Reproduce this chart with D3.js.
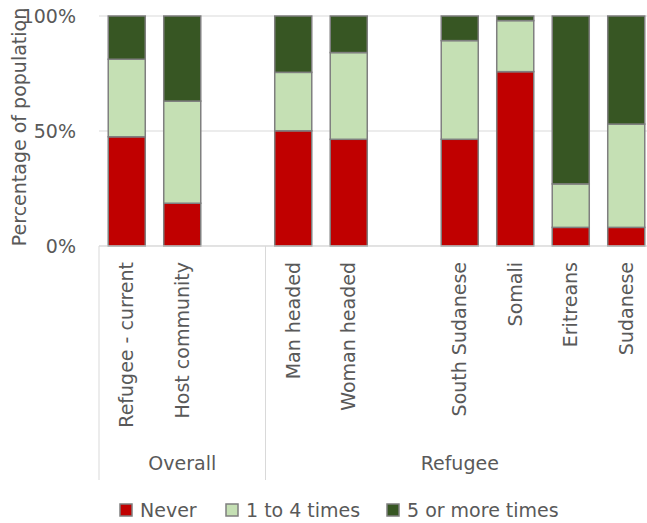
<!DOCTYPE html>
<html><head><meta charset="utf-8">
<script src="https://cdn.jsdelivr.net/npm/d3@7"></script>
<style>body{margin:0;background:#fff}svg{display:block;font-family:"DejaVu Sans",sans-serif}</style>
</head><body><svg id="c" width="647" height="523"></svg>
<script>
const categories = ["Refugee - current","Host community","","Man headed","Woman headed","","South Sudanese","Somali","Eritreans","Sudanese"];
const never = [47.5,18.6,null,50.1,46.4,null,46.4,75.8,8.1,8.1];
const oneToFour = [33.7,44.4,null,25.4,37.7,null,42.9,22.2,18.9,44.9];
const fivePlus = [18.8,37.0,null,24.5,15.9,null,10.7,2.0,73.0,47.0];
const seriesNames = ["Never","1 to 4 times","5 or more times"];
const seriesColors = ["#C00000","#C5E0B4","#375623"];
const groups = [{name:"Overall",from:0,to:2},{name:"Refugee",from:3,to:9}];
const yTicks = [0,50,100];

const svg = d3.select("#c");
const m = {l:99, t:16, r:654, b:246};
const fs = 19;
const slots = categories.map((d,i)=>"s"+i);
const x = d3.scaleBand().domain(slots).range([m.l,m.r]).paddingInner(0.333).paddingOuter(0.1665);
const y = d3.scaleLinear().domain([0,100]).range([m.b,m.t]);
const textCol = "#595959", gridCol = "#D9D9D9";

// gridlines
svg.append("g").selectAll("line").data(yTicks).join("line")
  .attr("x1",m.l).attr("x2",m.r).attr("y1",d=>y(d)).attr("y2",d=>y(d))
  .attr("stroke",gridCol).attr("stroke-width",1);
// y tick labels
svg.append("g").selectAll("text").data(yTicks).join("text")
  .attr("x",76).attr("y",d=>y(d)).attr("dy","0.35em").attr("text-anchor","end")
  .attr("fill",textCol).attr("font-size",fs).text(d=>d+"%");
// y title
svg.append("text").attr("transform",`translate(19,127) rotate(-90)`)
  .attr("dy","0.35em").attr("text-anchor","middle").attr("fill",textCol).attr("font-size",fs).text("Percentage of population");

// stacked bars
const rows = categories.map((c,i)=>({key:slots[i],v:[never[i],oneToFour[i],fivePlus[i]]})).filter(r=>r.v[0]!==null);
const stackData = rows.map(r=>({key:r.key,s0:r.v[0],s1:r.v[1],s2:r.v[2]}));
const stack = d3.stack().keys(["s0","s1","s2"])(stackData);
svg.append("g").selectAll("g").data(stack).join("g").attr("fill",(d,i)=>seriesColors[i])
  .selectAll("rect").data(d=>d).join("rect")
  .attr("x",d=>x(d.data.key)).attr("width",x.bandwidth())
  .attr("y",d=>y(d[1])).attr("height",d=>y(d[0])-y(d[1]))
  .attr("stroke","#7F7F7F").attr("stroke-width",1.5);

// category axis line
svg.append("line").attr("x1",m.l).attr("x2",m.r).attr("y1",m.b).attr("y2",m.b).attr("stroke",gridCol);
// group separators
const sepX = [m.l, ...groups.map(g=>x(slots[g.to])+x.bandwidth()+x.step()*x.paddingInner()/2)];
sepX[sepX.length-1] = m.r;
svg.append("g").selectAll("line").data(sepX).join("line")
  .attr("x1",d=>d).attr("x2",d=>d).attr("y1",m.b).attr("y2",480).attr("stroke",gridCol);
// category labels
svg.append("g").selectAll("text").data(categories.map((c,i)=>({c,k:slots[i]})).filter(d=>d.c)).join("text")
  .attr("transform",d=>`translate(${x(d.k)+x.bandwidth()/2},262) rotate(-90)`)
  .attr("dy","0.35em").attr("text-anchor","end").attr("fill",textCol).attr("font-size",fs).text(d=>d.c);
// group labels
svg.append("g").selectAll("text").data(groups).join("text")
  .attr("x",(g,i)=>(sepX[i]+sepX[i+1])/2).attr("y",470).attr("text-anchor","middle")
  .attr("fill",textCol).attr("font-size",fs).text(g=>g.name);

// legend
const legX = [120,226,387];
const lg = svg.append("g").selectAll("g").data(seriesNames).join("g")
  .attr("transform",(d,i)=>`translate(${legX[i]},504)`);
lg.append("rect").attr("width",12).attr("height",12).attr("fill",(d,i)=>seriesColors[i]).attr("stroke","#7F7F7F").attr("stroke-width",1.5);
lg.append("text").attr("x",20).attr("y",6).attr("dy","0.35em").attr("fill",textCol).attr("font-size",fs).text(d=>d);
</script></body></html>
